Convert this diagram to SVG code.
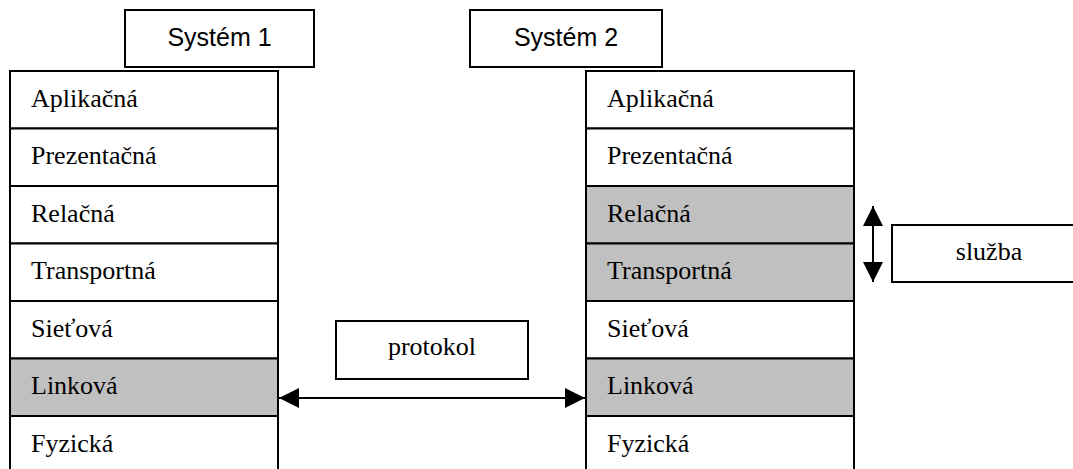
<svg xmlns="http://www.w3.org/2000/svg" width="1073" height="469" viewBox="0 0 1073 469">
<style>
.box{fill:#fff;stroke:#000;stroke-width:2}
.sh{fill:#c0c0c0;stroke:#000;stroke-width:2}
.lay{font-family:"Liberation Serif","Times New Roman",serif;font-size:26px;fill:#000}
.sys{font-family:"Liberation Sans",Arial,sans-serif;font-size:25px;fill:#000}
.lbl{font-family:"Liberation Serif","Times New Roman",serif;font-size:26px;fill:#000}
.conn{stroke:#000;stroke-width:2;fill:none}
</style>
<defs>
<marker id="ah" viewBox="0 0 20 20" refX="20" refY="10" markerWidth="20" markerHeight="20" markerUnits="userSpaceOnUse" orient="auto-start-reverse">
<path d="M0,0 L20,10 L0,20 Z" fill="#000"/>
</marker>
</defs>
<g id="system1">
<rect class="box" x="125" y="10" width="189" height="57"/>
<text class="sys" x="219.5" y="45.5" text-anchor="middle">Systém 1</text>
</g>
<g id="system2">
<rect class="box" x="470" y="10" width="192" height="57"/>
<text class="sys" x="566" y="45.5" text-anchor="middle">Systém 2</text>
</g>
<g id="stack1">
<rect class="box" x="10" y="71" width="268" height="57.5"/>
<text class="lay" x="31" y="106.5">Aplikačná</text>
<rect class="box" x="10" y="128.5" width="268" height="57.5"/>
<text class="lay" x="31" y="164">Prezentačná</text>
<rect class="box" x="10" y="186" width="268" height="57.5"/>
<text class="lay" x="31" y="221.5">Relačná</text>
<rect class="box" x="10" y="243.5" width="268" height="57.5"/>
<text class="lay" x="31" y="279">Transportná</text>
<rect class="box" x="10" y="301" width="268" height="57.5"/>
<text class="lay" x="31" y="336.5">Sieťová</text>
<rect class="sh" x="10" y="358.5" width="268" height="57.5"/>
<text class="lay" x="31" y="394">Linková</text>
<rect class="box" x="10" y="416" width="268" height="70"/>
<text class="lay" x="31" y="451.5">Fyzická</text>
</g>
<g id="stack2">
<rect class="box" x="586" y="71" width="268" height="57.5"/>
<text class="lay" x="607" y="106.5">Aplikačná</text>
<rect class="box" x="586" y="128.5" width="268" height="57.5"/>
<text class="lay" x="607" y="164">Prezentačná</text>
<rect class="sh" x="586" y="186" width="268" height="57.5"/>
<text class="lay" x="607" y="221.5">Relačná</text>
<rect class="sh" x="586" y="243.5" width="268" height="57.5"/>
<text class="lay" x="607" y="279">Transportná</text>
<rect class="box" x="586" y="301" width="268" height="57.5"/>
<text class="lay" x="607" y="336.5">Sieťová</text>
<rect class="sh" x="586" y="358.5" width="268" height="57.5"/>
<text class="lay" x="607" y="394">Linková</text>
<rect class="box" x="586" y="416" width="268" height="70"/>
<text class="lay" x="607" y="451.5">Fyzická</text>
</g>
<g id="protokol">
<rect class="box" x="336" y="321" width="192" height="58"/>
<text class="lbl" x="432" y="355" text-anchor="middle">protokol</text>
</g>
<g id="sluzba">
<rect class="box" x="892" y="225" width="194" height="57"/>
<text class="lbl" x="989" y="260" text-anchor="middle">služba</text>
</g>
<g id="connectors">
<line class="conn" x1="279" y1="398" x2="585" y2="398" marker-start="url(#ah)" marker-end="url(#ah)"/>
<line class="conn" x1="873" y1="206" x2="873" y2="282" marker-start="url(#ah)" marker-end="url(#ah)"/>
</g>
</svg>
